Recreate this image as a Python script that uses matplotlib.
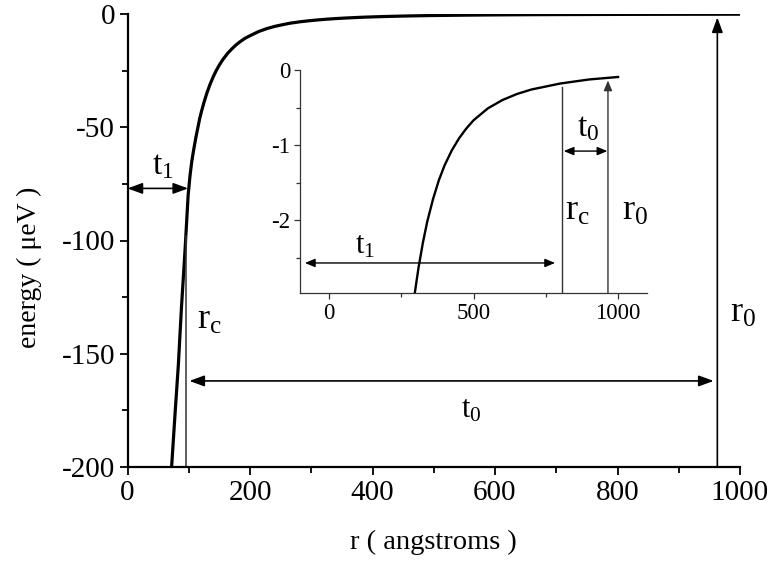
import matplotlib
matplotlib.use('Agg')
import matplotlib.pyplot as plt
from matplotlib.ticker import MultipleLocator

# energy curve (r in angstroms, energy in ueV)
r_vals = [72, 78, 83, 88, 94, 99, 102, 105, 108, 112, 115, 118, 121, 125,
          130, 135, 140, 145, 150, 156, 164, 170, 177, 184, 192, 200, 214,
          228, 240, 250, 265, 282, 297, 310, 325, 340, 360, 380, 400, 425,
          450, 475, 500, 550, 600, 650, 700, 800, 900, 1000]
energy = [-200, -175, -155, -130, -104, -80, -71.5, -65, -60, -54, -50, -46,
          -42.8, -38.9, -34.6, -30.9, -27.7, -24.9, -22.5, -20, -17.2, -15.5,
          -13.7, -12.2, -10.7, -9.6, -7.75, -6.4, -5.5, -4.9, -4.08, -3.42,
          -2.97, -2.63, -2.30, -2.02, -1.72, -1.47, -1.27, -1.07, -0.91,
          -0.78, -0.67, -0.51, -0.40, -0.32, -0.26, -0.18, -0.126, -0.093]

main_xticks = [0, 200, 400, 600, 800, 1000]
main_yticks = [0, -50, -100, -150, -200]
inset_xticks = [0, 500, 1000]
inset_yticks = [0, -1, -2]

plt.rcParams['font.family'] = ['Liberation Serif', 'DejaVu Serif']
plt.rcParams['mathtext.fontset'] = 'custom'
plt.rcParams['mathtext.rm'] = 'Liberation Serif'
plt.rcParams['mathtext.default'] = 'rm'
plt.rcParams['axes.unicode_minus'] = False

W, H = 771, 563
fig = plt.figure(figsize=(W / 100, H / 100), dpi=100)

# main axes
ax = fig.add_axes([127.5 / W, (H - 467) / H, 612.5 / W, 453 / H])
ax.plot(r_vals, energy, color='black', lw=2.3, solid_capstyle='butt')
ax.set_xlim(0, 1000)
ax.set_ylim(-200, 0)
ax.set_xticks(main_xticks)
ax.set_yticks(main_yticks)
ax.xaxis.set_minor_locator(MultipleLocator(100))
ax.yaxis.set_minor_locator(MultipleLocator(25))
for s in ['top', 'right']:
    ax.spines[s].set_visible(False)
for s in ['left', 'bottom']:
    ax.spines[s].set_linewidth(1.6)
ax.tick_params(which='major', direction='out', length=6, width=1.3,
               labelsize=21, pad=3)
ax.tick_params(which='minor', direction='out', length=4.5, width=1.3)

fig.text(29 / W, 1 - 267 / H, 'energy ( \u03bceV )', rotation=90,
         ha='center', va='center', fontsize=20)
fig.text(433 / W, 1 - 542 / H, 'r ( angstroms )', ha='center', va='center',
         fontsize=20.5)

big_arrow = dict(arrowstyle='<|-|>,head_length=0.6,head_width=0.22',
                 mutation_scale=15, lw=1.2, color='black',
                 shrinkA=0, shrinkB=0)
one_arrow = dict(arrowstyle='-|>,head_length=0.6,head_width=0.22',
                 mutation_scale=15, lw=1.2, color='black',
                 shrinkA=0, shrinkB=0)

# t1 arrow
ax.annotate('', xy=(99, -77), xytext=(0, -77), arrowprops=big_arrow,
            annotation_clip=False)
ax.text(58, -74, '$t_1$', ha='center', va='bottom', fontsize=24)
# rc line
ax.plot([95.5, 95.5], [-200, -98], color='#333333', lw=1.1, clip_on=False)
ax.text(113, -139, '$r_c$', ha='left', va='baseline', fontsize=26)
# t0 arrow
ax.annotate('', xy=(957, -162), xytext=(101, -162), arrowprops=big_arrow)
ax.text(562, -178, '$t_0$', ha='center', va='baseline', fontsize=22)
# r0 arrow
ax.annotate('', xy=(963, -1.5), xytext=(963, -200), arrowprops=one_arrow,
            annotation_clip=False)
ax.text(984, -136, '$r_0$', ha='left', va='baseline', fontsize=26)

# inset
ins = fig.add_axes([300 / W, (H - 293) / H, 347 / W, 223 / H])
ins.set_facecolor('none')
ins.plot(r_vals, energy, color='black', lw=1.7)
ins.set_xlim(-100, 1100)
ins.set_ylim(-2.97, 0)
ins.set_xticks(inset_xticks)
ins.set_yticks(inset_yticks)
ins.xaxis.set_minor_locator(MultipleLocator(250))
ins.yaxis.set_minor_locator(MultipleLocator(0.5))
for s in ['top', 'right']:
    ins.spines[s].set_visible(False)
for s in ['left', 'bottom']:
    ins.spines[s].set_linewidth(0.9)
    ins.spines[s].set_color('#333333')
ins.tick_params(which='major', direction='out', length=4, width=0.9,
                color='#333333', labelsize=16.5, pad=3)
ins.tick_params(which='minor', direction='out', length=3, width=0.9,
                color='#333333')

small_arrow = dict(arrowstyle='<|-|>,head_length=0.6,head_width=0.25',
                   mutation_scale=10, lw=1.0, color='black',
                   shrinkA=0, shrinkB=0)
small_one = dict(arrowstyle='-|>,head_length=0.6,head_width=0.25',
                 mutation_scale=10, lw=1.0, color='#333333',
                 shrinkA=0, shrinkB=0)

ins.annotate('', xy=(782, -2.57), xytext=(-83, -2.57), arrowprops=small_arrow)
ins.text(125, -2.44, '$t_1$', ha='center', va='baseline', fontsize=22)
ins.plot([806, 806], [-2.97, -0.23], color='#333333', lw=1.0)
ins.text(817, -2.0, '$r_c$', ha='left', va='baseline', fontsize=26)
ins.annotate('', xy=(965, -0.14), xytext=(965, -2.97), arrowprops=small_one)
ins.text(1014, -2.0, '$r_0$', ha='left', va='baseline', fontsize=26,
         clip_on=False)
ins.annotate('', xy=(963, -1.08), xytext=(812, -1.08), arrowprops=small_arrow)
ins.text(896, -0.88, '$t_0$', ha='center', va='baseline', fontsize=24)

fig.savefig('out.png', dpi=100)
